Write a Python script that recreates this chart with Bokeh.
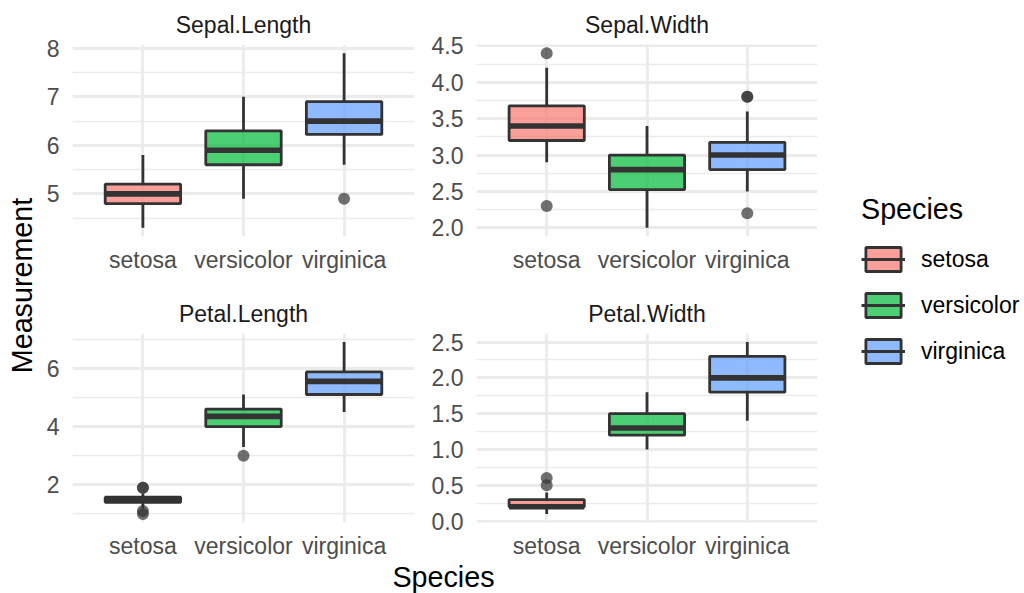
from math import pi
from bokeh.plotting import figure
from bokeh.layouts import row, column
from bokeh.models import (FactorRange, Range1d, FixedTicker, NumeralTickFormatter,
                          ColumnDataSource, Label, Legend, LegendItem)
from bokeh.transform import dodge
from bokeh.embed import file_html
from bokeh.resources import INLINE

# ---------------- data ----------------
species = ["setosa", "versicolor", "virginica"]
species_colors = ["#F8766D", "#00BA38", "#619CFF"]

sepal_length_lower = [4.3, 4.9, 5.6]
sepal_length_q1 = [4.8, 5.6, 6.225]
sepal_length_median = [5.0, 5.9, 6.5]
sepal_length_q3 = [5.2, 6.3, 6.9]
sepal_length_upper = [5.8, 7.0, 7.9]
sepal_length_outlier_species = ["virginica"]
sepal_length_outlier_values = [4.9]

sepal_width_lower = [2.9, 2.0, 2.5]
sepal_width_q1 = [3.2, 2.525, 2.8]
sepal_width_median = [3.4, 2.8, 3.0]
sepal_width_q3 = [3.675, 3.0, 3.175]
sepal_width_upper = [4.2, 3.4, 3.6]
sepal_width_outlier_species = ["setosa", "setosa", "virginica", "virginica", "virginica"]
sepal_width_outlier_values = [4.4, 2.3, 3.8, 3.8, 2.2]

petal_length_lower = [1.2, 3.3, 4.5]
petal_length_q1 = [1.4, 4.0, 5.1]
petal_length_median = [1.5, 4.35, 5.55]
petal_length_q3 = [1.575, 4.6, 5.875]
petal_length_upper = [1.7, 5.1, 6.9]
petal_length_outlier_species = ["setosa", "setosa", "setosa", "setosa", "versicolor"]
petal_length_outlier_values = [1.1, 1.0, 1.9, 1.9, 3.0]

petal_width_lower = [0.1, 1.0, 1.4]
petal_width_q1 = [0.2, 1.2, 1.8]
petal_width_median = [0.2, 1.3, 2.0]
petal_width_q3 = [0.3, 1.5, 2.3]
petal_width_upper = [0.4, 1.8, 2.5]
petal_width_outlier_species = ["setosa", "setosa"]
petal_width_outlier_values = [0.5, 0.6]

sepal_length_ticks = [5, 6, 7, 8]
sepal_length_minor = [4.5, 5.5, 6.5, 7.5]
sepal_width_ticks = [2.0, 2.5, 3.0, 3.5, 4.0, 4.5]
sepal_width_minor = [2.25, 2.75, 3.25, 3.75, 4.25]
petal_length_ticks = [2, 4, 6]
petal_length_minor = [1, 3, 5, 7]
petal_width_ticks = [0.0, 0.5, 1.0, 1.5, 2.0, 2.5]
petal_width_minor = [0.25, 0.75, 1.25, 1.75, 2.25]

# ---------------- style ----------------
FONT = "Liberation Sans"
TICK_SIZE = "23px"
TITLE_SIZE = "28.7px"
LINE = "#333333"
GRID = "#EBEBEB"
SIDE_TOP = 193  # top border shared by the side figures (aligned in the row)


def panel(title, lower, q1, med, q3, upper, out_sp, out_val, majors, minors, fmt,
          width, height, bl, br, bt, bb):
    ymin = min(lower + out_val)
    ymax = max(upper + out_val)
    pad = 0.05 * (ymax - ymin)
    p = figure(x_range=FactorRange(factors=species, range_padding=0.2,
                                   range_padding_units="absolute"),
               y_range=Range1d(ymin - pad, ymax + pad),
               width=width, height=height, toolbar_location=None,
               output_backend="svg",
               min_border_left=bl, min_border_right=br,
               min_border_top=bt, min_border_bottom=bb)
    p.outline_line_color = None
    p.background_fill_color = "white"
    p.border_fill_color = "white"

    p.title.text = title
    p.title.align = "center"
    p.title.text_font = FONT
    p.title.text_font_size = TICK_SIZE
    p.title.text_font_style = "normal"
    p.title.text_color = "#1A1A1A"
    p.title.standoff = 13

    ticker = FixedTicker(ticks=majors, minor_ticks=minors)
    p.yaxis.ticker = ticker
    p.ygrid.ticker = ticker
    p.yaxis.formatter = NumeralTickFormatter(format=fmt)

    for ax in (p.xaxis, p.yaxis):
        ax.axis_line_color = None
        ax.major_tick_line_color = None
        ax.minor_tick_line_color = None
        ax.major_tick_out = 0
        ax.major_tick_in = 0
        ax.minor_tick_out = 0
        ax.minor_tick_in = 0
        ax.major_label_text_font = FONT
        ax.major_label_text_font_size = TICK_SIZE
        ax.major_label_text_color = "#4D4D4D"
    p.yaxis.major_label_standoff = 13
    p.xaxis.major_label_standoff = 10

    p.xgrid.grid_line_color = GRID
    p.xgrid.grid_line_width = 2.8
    p.ygrid.grid_line_color = GRID
    p.ygrid.grid_line_width = 2.8
    p.ygrid.minor_grid_line_color = GRID
    p.ygrid.minor_grid_line_width = 1.4

    src = ColumnDataSource(dict(species=species, color=species_colors, lower=lower,
                                q1=q1, med=med, q3=q3, upper=upper))
    p.scatter(x=out_sp, y=out_val, size=12, fill_color=LINE, fill_alpha=0.7,
              line_color=None)
    p.segment(x0="species", x1="species", y0="lower", y1="q1", source=src,
              line_color=LINE, line_width=2.8)
    p.segment(x0="species", x1="species", y0="q3", y1="upper", source=src,
              line_color=LINE, line_width=2.8)
    p.vbar(x="species", width=0.75, bottom="q1", top="q3", source=src,
           fill_color="color", fill_alpha=0.7, line_color=LINE, line_width=2.8)
    p.segment(x0=dodge("species", -0.375, range=p.x_range),
              x1=dodge("species", 0.375, range=p.x_range),
              y0="med", y1="med", source=src, line_color=LINE, line_width=5.6)
    return p


p1 = panel("Sepal.Length", sepal_length_lower, sepal_length_q1, sepal_length_median,
           sepal_length_q3, sepal_length_upper, sepal_length_outlier_species,
           sepal_length_outlier_values, sepal_length_ticks, sepal_length_minor, "0",
           388, 290, 32, 14, 44, 54)
p2 = panel("Sepal.Width", sepal_width_lower, sepal_width_q1, sepal_width_median,
           sepal_width_q3, sepal_width_upper, sepal_width_outlier_species,
           sepal_width_outlier_values, sepal_width_ticks, sepal_width_minor, "0.0",
           402, 290, 47, 13, 44, 54)
p3 = panel("Petal.Length", petal_length_lower, petal_length_q1, petal_length_median,
           petal_length_q3, petal_length_upper, petal_length_outlier_species,
           petal_length_outlier_values, petal_length_ticks, petal_length_minor, "0",
           388, 271, 32, 14, 43, 37)
p4 = panel("Petal.Width", petal_width_lower, petal_width_q1, petal_width_median,
           petal_width_q3, petal_width_upper, petal_width_outlier_species,
           petal_width_outlier_values, petal_width_ticks, petal_width_minor, "0.0",
           402, 271, 47, 13, 43, 37)

# y axis title (frame spans page y 193..593)
ylab = figure(width=40, height=593, x_range=Range1d(0, 40),
              y_range=Range1d(0, 593 - SIDE_TOP),
              x_axis_type=None, y_axis_type=None, toolbar_location=None,
              output_backend="svg", title=None, min_border_left=0,
              min_border_right=0, min_border_top=SIDE_TOP, min_border_bottom=0)
ylab.outline_line_color = None
ylab.add_layout(Label(x=21, y=593 - 285, text="Measurement", angle=pi / 2,
                      text_align="center", text_baseline="middle",
                      text_font=FONT, text_font_size=TITLE_SIZE, text_color="black"))

# x axis title
xlab = figure(width=790, height=32, x_range=Range1d(0, 790), y_range=Range1d(0, 32),
              x_axis_type=None, y_axis_type=None, toolbar_location=None,
              output_backend="svg", title=None, min_border=0)
xlab.outline_line_color = None
xlab.add_layout(Label(x=403, y=17, text="Species", text_align="center",
                      text_baseline="middle", text_font=FONT,
                      text_font_size=TITLE_SIZE, text_color="black"))

# legend
leg = figure(width=194, height=593, x_range=Range1d(0, 1), y_range=Range1d(0, 1),
             x_axis_type=None, y_axis_type=None, toolbar_location=None,
             output_backend="svg", title=None, min_border_left=31,
             min_border_top=SIDE_TOP, min_border_right=0, min_border_bottom=0)
leg.outline_line_color = None
items = []
for name, col in zip(species, species_colors):
    # hidden renderers: they only provide the legend keys
    r1 = leg.vbar(x=[0.5], top=[0.6], bottom=[0.5], width=0.1, fill_color=col,
                  fill_alpha=0.7, line_color=LINE, line_width=2.8, visible=False)
    r2 = leg.segment(x0=[0.4], y0=[0.5], x1=[0.6], y1=[0.5], line_color=LINE,
                     line_width=2.8, visible=False)
    items.append(LegendItem(label=name, renderers=[r1, r2]))
legend = Legend(items=items, location="top_left", title="Species",
                title_text_font=FONT, title_text_font_size=TITLE_SIZE,
                title_text_font_style="normal", title_text_color="black",
                title_standoff=18,
                label_text_font=FONT, label_text_font_size=TICK_SIZE,
                label_text_color="black",
                glyph_width=44, glyph_height=30, label_standoff=16, spacing=16,
                padding=0, margin=0, border_line_color=None,
                background_fill_alpha=0, inactive_fill_alpha=0)
leg.add_layout(legend)

layout = row(ylab, column(row(p1, p2), row(p3, p4), xlab), leg)

open("out.html", "w").write(file_html(layout, INLINE, title="iris boxplots"))
